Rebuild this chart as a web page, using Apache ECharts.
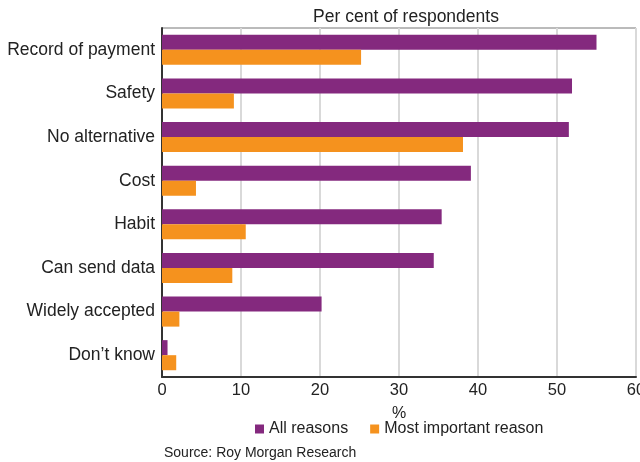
<!DOCTYPE html>
<html><head><meta charset="utf-8">
<script src="https://cdn.jsdelivr.net/npm/echarts@6/dist/echarts.min.js"></script>
<style>html,body{margin:0;padding:0;background:#fff}#c{width:640px;height:462px}</style>
</head><body><div id="c"></div>
<script>
const categories = ["Record of payment","Safety","No alternative","Cost","Habit","Can send data","Widely accepted","Don\u2019t know"];
const allReasons = [55.0, 51.9, 51.5, 39.1, 35.4, 34.4, 20.2, 0.7];
const mostImportant = [25.2, 9.1, 38.1, 4.3, 10.6, 8.9, 2.2, 1.8];
const xTicks = [0, 10, 20, 30, 40, 50, 60];

const font = "Arial, 'Liberation Sans', sans-serif";
const chart = echarts.init(document.getElementById('c'), null, {renderer:'canvas'});
chart.setOption({
  animation: false,
  textStyle: {fontFamily: font},
  title: [
    {text: 'Per cent of respondents', left: 401, top: 3, textAlign: 'center',
     textStyle: {fontSize: 17.5, fontWeight: 'normal', color: '#222', fontFamily: font}},
    {text: 'Source: Roy Morgan Research', left: 159, top: 441,
     textStyle: {fontSize: 14, fontWeight: 'normal', color: '#222', fontFamily: font}}
  ],
  legend: {
    data: ['All reasons', 'Most important reason'],
    left: 250, top: 416,
    icon: 'rect', itemWidth: 9, itemHeight: 9, itemGap: 22, itemStyle: {},
    textStyle: {fontSize: 16, color: '#222', fontFamily: font}
  },
  grid: {left: 162, right: 4, top: 28, bottom: 85, show: true, borderColor: '#777', borderWidth: 1,
         outerBoundsMode: 'none'},
  xAxis: {
    type: 'value', min: xTicks[0], max: xTicks[xTicks.length-1], interval: 10,
    name: '%', nameLocation: 'middle', nameGap: 29,
    nameTextStyle: {fontSize: 16, color: '#222', fontFamily: font},
    axisLine: {show: true, lineStyle: {color: '#333', width: 2}},
    axisTick: {show: false},
    axisLabel: {fontSize: 16.5, color: '#222', margin: 5, fontFamily: font},
    splitLine: {show: true, lineStyle: {color: '#d9d9d9', width: 2}}
  },
  yAxis: {
    type: 'category', data: categories, inverse: true,
    axisLine: {show: true, lineStyle: {color: '#333', width: 2}},
    axisTick: {show: false},
    axisLabel: {fontSize: 17.5, color: '#222', margin: 7, fontFamily: font}
  },
  series: [
    {name: 'All reasons', type: 'bar', data: allReasons, barGap: '0%', barCategoryGap: '31%',
     itemStyle: {color: '#84297e'}},
    {name: 'Most important reason', type: 'bar', data: mostImportant, barGap: '0%', barCategoryGap: '31%',
     itemStyle: {color: '#f5921e'}}
  ]
});
</script></body></html>
